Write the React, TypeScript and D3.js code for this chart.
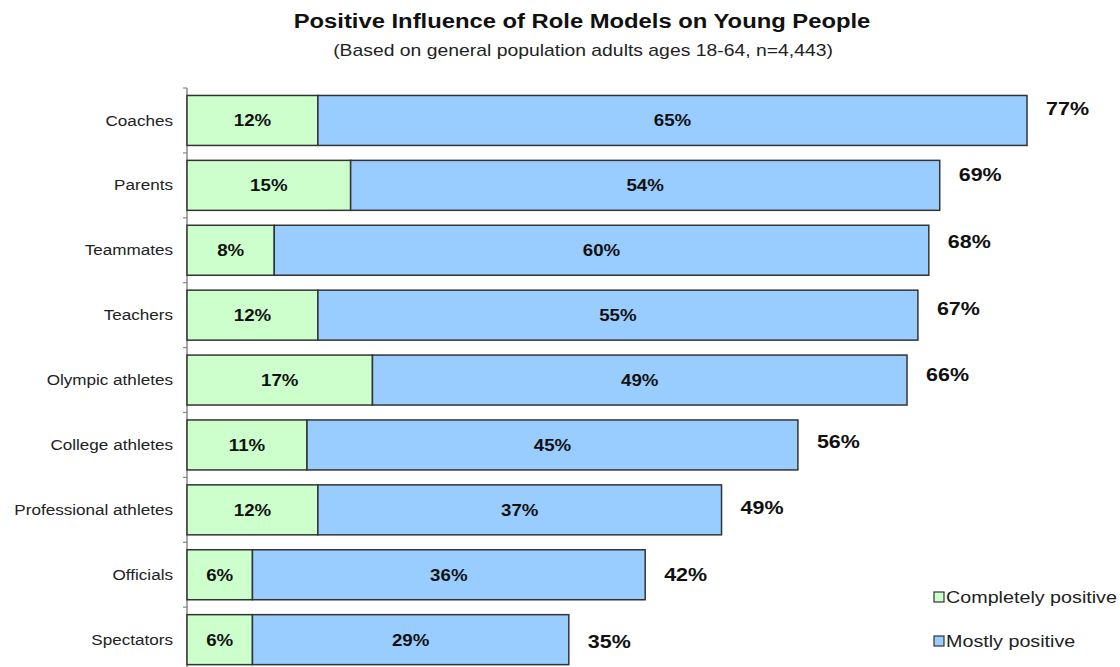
import React from "react";
import * as d3 from "d3";

const categories = [
  "Coaches",
  "Parents",
  "Teammates",
  "Teachers",
  "Olympic athletes",
  "College athletes",
  "Professional athletes",
  "Officials",
  "Spectators",
];
const completelyPositive = [12, 15, 8, 12, 17, 11, 12, 6, 6];
const mostlyPositive = [65, 54, 60, 55, 49, 45, 37, 36, 29];
const totals = [77, 69, 68, 67, 66, 56, 49, 42, 35];
const seriesNames = ["Completely positive", "Mostly positive"];
const seriesColors = ["#CCFFCC", "#99CCFF"];

const W = 1120;
const H = 667;
const FONT = "'Liberation Sans', Arial, sans-serif";

type TxtProps = {
  x: number;
  y: number;
  size: number;
  sx: number;
  anchor?: "start" | "middle" | "end";
  bold?: boolean;
  fill?: string;
  children: React.ReactNode;
};

function Txt({ x, y, size, sx, anchor = "start", bold = false, fill = "#111", children }: TxtProps) {
  return (
    <text
      transform={`translate(${x},${y}) scale(${sx},1)`}
      dy="0.35em"
      textAnchor={anchor}
      fontSize={size}
      fontWeight={bold ? "bold" : "normal"}
      fill={fill}
    >
      {children}
    </text>
  );
}

export default function App() {
  const x = d3.scaleLinear().domain([0, 77]).range([187, 1027]);
  const y = d3
    .scaleBand<string>()
    .domain(categories)
    .range([88, 88 + 9 * 64.9])
    .paddingInner(0.23)
    .paddingOuter(0.115);
  const yBounds = d3
    .scaleBand<string>()
    .domain(categories)
    .range([88, 88 + 9 * 64.9]);
  const yTotals = d3.scalePoint<string>().domain(categories).range([108, 641]);
  const bh = y.bandwidth();

  return (
    <svg
      width={W}
      height={H}
      style={{ position: "absolute", left: 0, top: 0, background: "#fff" }}
      fontFamily={FONT}
    >
      <Txt x={582} y={21} size={20} sx={1.19} anchor="middle" bold fill="#111">
        Positive Influence of Role Models on Young People
      </Txt>
      <Txt x={583} y={50} size={16} sx={1.21} anchor="middle" fill="#222">
        (Based on general population adults ages 18-64, n=4,443)
      </Txt>

      {/* axis */}
      <line x1={187} x2={187} y1={88} y2={H} stroke="#888" strokeWidth={1.5} />
      {categories.map((c) => (
        <line
          key={"t" + c}
          x1={183}
          x2={187}
          y1={yBounds(c)!}
          y2={yBounds(c)!}
          stroke="#888"
          strokeWidth={1.2}
        />
      ))}

      {categories.map((c, i) => {
        const y0 = y(c)!;
        const g0 = x(0);
        const g1 = x(completelyPositive[i]);
        const b1 = x(completelyPositive[i] + mostlyPositive[i]);
        const cy = y0 + bh / 2;
        return (
          <g key={c}>
            <Txt x={173} y={cy} size={14.5} sx={1.18} anchor="end" fill="#222">
              {c}
            </Txt>
            <rect x={g0} y={y0} width={g1 - g0} height={bh} fill={seriesColors[0]} stroke="#333" strokeWidth={1.5} />
            <rect x={g1} y={y0} width={b1 - g1} height={bh} fill={seriesColors[1]} stroke="#333" strokeWidth={1.5} />
            <Txt x={(g0 + g1) / 2} y={cy} size={17} sx={1.1} anchor="middle" bold>
              {completelyPositive[i]}%
            </Txt>
            <Txt x={(g1 + b1) / 2} y={cy} size={17} sx={1.1} anchor="middle" bold>
              {mostlyPositive[i]}%
            </Txt>
            <Txt x={x(totals[i]) + 19} y={yTotals(c)!} size={19} sx={1.13} anchor="start" bold>
              {totals[i]}%
            </Txt>
          </g>
        );
      })}

      {/* legend */}
      {seriesNames.map((s, i) => {
        const ly = 597 + i * 44;
        return (
          <g key={s}>
            <rect x={934} y={ly - 5} width={10} height={10} fill={seriesColors[i]} stroke="#333" strokeWidth={1.2} />
            <Txt x={946} y={ly} size={17} sx={1.16} fill="#222">
              {s}
            </Txt>
          </g>
        );
      })}
    </svg>
  );
}
